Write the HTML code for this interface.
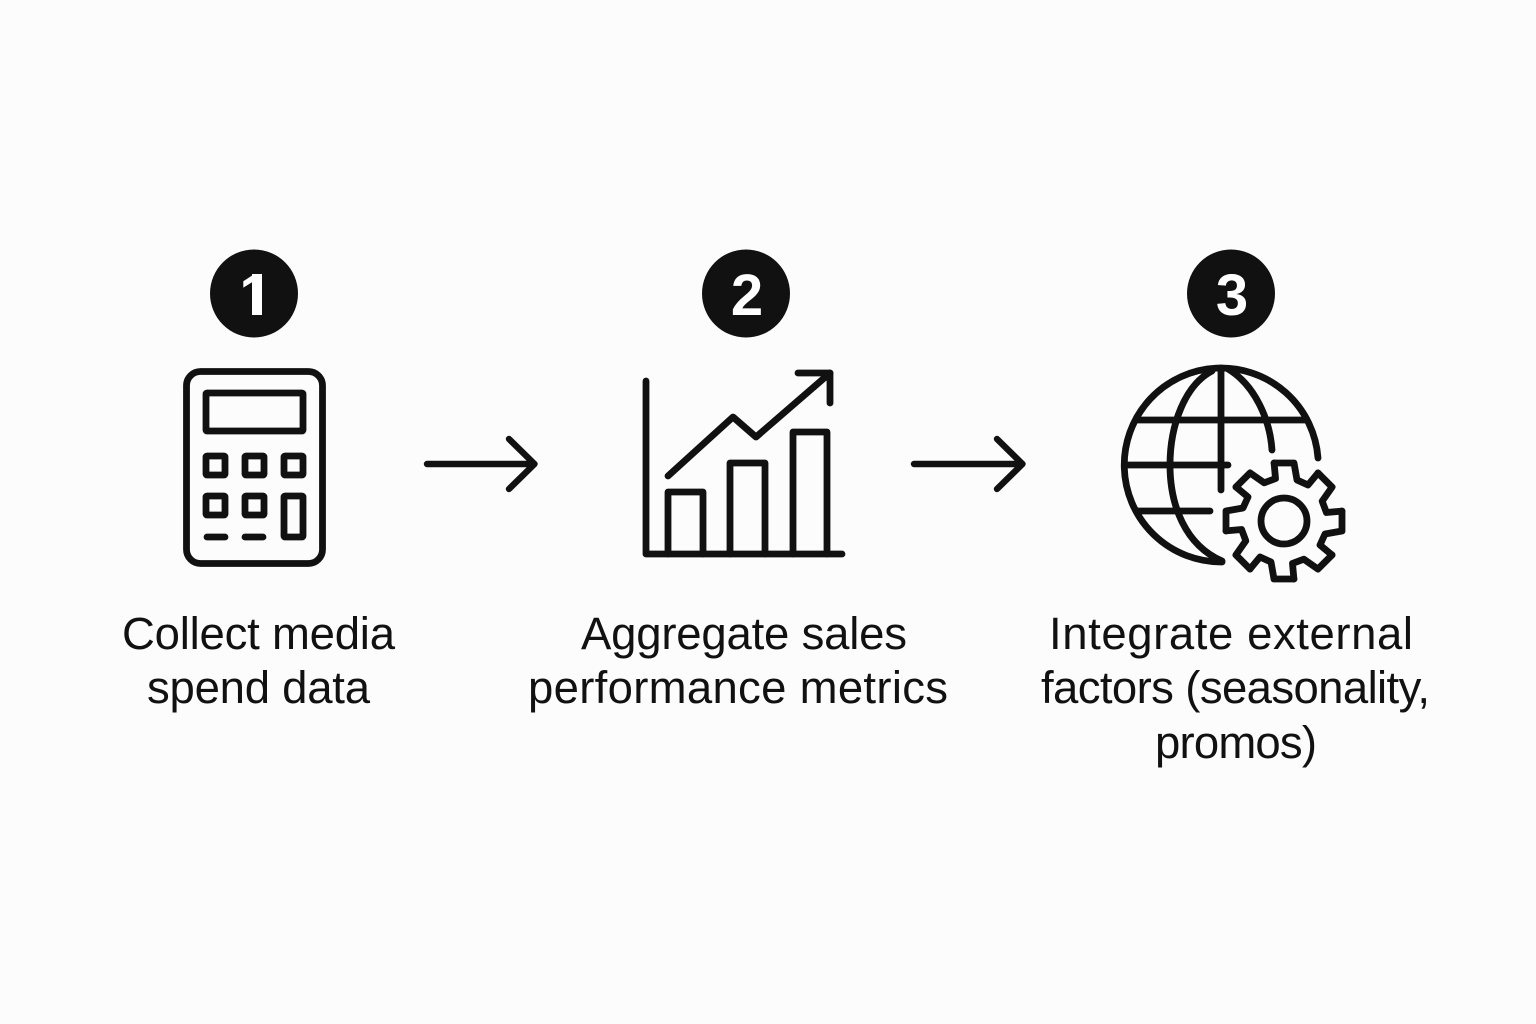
<!DOCTYPE html>
<html><head><meta charset="utf-8"><style>
html,body{margin:0;padding:0;background:#fcfcfc;width:1536px;height:1024px;overflow:hidden}
svg{display:block}
.s{fill:none;stroke:#111;stroke-width:6.800;stroke-linecap:round;stroke-linejoin:round}
.t{font-family:"Liberation Sans",sans-serif;font-size:45.500px;fill:#111;-webkit-text-stroke:0.3px #111}
.n{font-family:"Liberation Sans",sans-serif;font-size:58px;font-weight:700;fill:#fff;text-anchor:middle}
</style></head><body>
<svg width="1536" height="1024" viewBox="0 0 1536 1024" xmlns="http://www.w3.org/2000/svg">
<circle cx="254" cy="293.5" r="44" fill="#111"/>
<circle cx="746" cy="293.5" r="44" fill="#111"/>
<circle cx="1231" cy="293.5" r="44" fill="#111"/>
<text class="n" x="255.500" y="315">1</text>
<rect x="235" y="305" width="18.800" height="13" fill="#111"/>
<rect x="261.800" y="305" width="15" height="13" fill="#111"/>
<rect x="252" y="274" width="10" height="41" fill="#fff"/>
<text class="n" x="747" y="315">2</text>
<text class="n" x="1232" y="315">3</text>

<g class="s">
<rect x="186.500" y="371.500" width="136" height="192" rx="14"/>
<rect x="206" y="393" width="97" height="38" rx="1"/>
<rect x="206" y="456" width="19" height="19" rx="1"/>
<rect x="245" y="456" width="19" height="19" rx="1"/>
<rect x="284" y="456" width="19" height="19" rx="1"/>
<rect x="206" y="496" width="19" height="19" rx="1"/>
<rect x="245" y="496" width="19" height="19" rx="1"/>
<rect x="284" y="496" width="19" height="41" rx="1"/>
<path d="M207 537H225M245 537H263"/>
</g>

<g class="s">
<path d="M646 381V554H842"/>
<path d="M668 554V492H703V554M730 554V463H765V554M793 554V432H827V554"/>
<path d="M668 476L733 417L756 437L830 373"/>
<path d="M798 373H830V403"/>
</g>

<path class="s" style="stroke-width:6.400" d="M427 464H534.500M509 439L534.500 464L509 489"/>
<path class="s" style="stroke-width:6.400" d="M914 464H1022.500M997 439L1022.500 464L997 489"/>

<g class="s">
<path d="M1318 458A97 97 0 1 0 1222 562"/>
<path d="M1221 368V490"/>
<path d="M1138 420H1305M1126 465H1228M1138 511H1210"/>
<path d="M1212 371C1185 385 1170 425 1170 465C1170 505 1185 545 1222 561"/>
<path d="M1228 369C1255 385 1270 420 1272 450"/>
<circle cx="1284" cy="521" r="23"/>
<g transform="translate(1284 521)">
<polyline points="-10,-58 10,-58 13,-41 24,-36 34,-48"/>
<polyline points="-10,-58 10,-58 13,-41 24,-36 34,-48" transform="rotate(45)"/>
<polyline points="-10,-58 10,-58 13,-41 24,-36 34,-48" transform="rotate(90)"/>
<polyline points="-10,-58 10,-58 13,-41 24,-36 34,-48" transform="rotate(135)"/>
<polyline points="-10,-58 10,-58 13,-41 24,-36 34,-48" transform="rotate(180)"/>
<polyline points="-10,-58 10,-58 13,-41 24,-36 34,-48" transform="rotate(225)"/>
<polyline points="-10,-58 10,-58 13,-41 24,-36 34,-48" transform="rotate(270)"/>
<polyline points="-10,-58 10,-58 13,-41 24,-36 34,-48" transform="rotate(315)"/>
</g>
</g>

<text class="t" x="122" y="649" textLength="273">Collect media</text>
<text class="t" x="147" y="703" textLength="223">spend data</text>
<text class="t" x="581" y="649" textLength="326">Aggregate sales</text>
<text class="t" x="528" y="703" textLength="420">performance metrics</text>
<text class="t" x="1049" y="649" textLength="364">Integrate external</text>
<text class="t" x="1041" y="703" textLength="389">factors (seasonality,</text>
<text class="t" x="1155" y="758" textLength="162">promos)</text>
</svg>
</body></html>
